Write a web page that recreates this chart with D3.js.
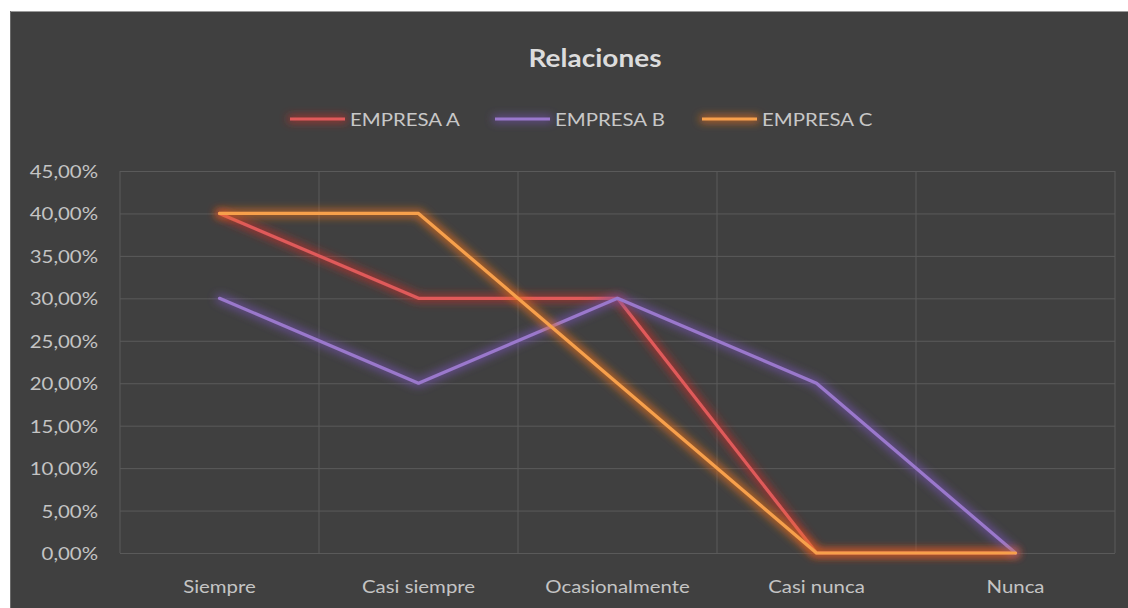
<!DOCTYPE html>
<html><head><meta charset="utf-8">
<script src="https://cdn.jsdelivr.net/npm/d3@7"></script>
<style>
html,body{margin:0;padding:0;background:#fff;}
svg{display:block;}
text{font-family:Lato,"Open Sans",sans-serif;}
</style></head>
<body>
<svg id="c" width="1128" height="608"></svg>
<script>
const categories = ["Siempre","Casi siempre","Ocasionalmente","Casi nunca","Nunca"];
const seriesNames = ["EMPRESA A","EMPRESA B","EMPRESA C"];
const empresaA = [0.40,0.30,0.30,0.00,0.00];
const empresaB = [0.30,0.20,0.30,0.20,0.00];
const empresaC = [0.40,0.40,0.20,0.00,0.00];
const yTicks = [0,0.05,0.10,0.15,0.20,0.25,0.30,0.35,0.40,0.45];
const title = "Relaciones";

const colors = ["#e05a5a","#9a78cc","#f7a04c"];
const glowColors = ["#c0302a","#7050a8","#e8701c"];
const series = [empresaA, empresaB, empresaC];
const SX = 1.2; // horizontal text stretch

const svg = d3.select("#c");
svg.append("rect").attr("x",10).attr("y",11).attr("width",1118).attr("height",597).attr("fill","#404040");
svg.append("line").attr("x1",10).attr("x2",1128).attr("y1",11.5).attr("y2",11.5).attr("stroke","#9a9a9a").attr("stroke-width",1);
svg.append("line").attr("x1",10.5).attr("x2",10.5).attr("y1",11).attr("y2",608).attr("stroke","#6a6a6a").attr("stroke-width",1);

const defs = svg.append("defs");
glowColors.forEach((c,i)=>{
  const f = defs.append("filter").attr("id","glow"+i).attr("filterUnits","userSpaceOnUse")
    .attr("x",0).attr("y",0).attr("width",1128).attr("height",608);
  f.append("feMorphology").attr("in","SourceAlpha").attr("operator","dilate").attr("radius",2).attr("result","d");
  f.append("feGaussianBlur").attr("in","d").attr("stdDeviation",4).attr("result","b");
  f.append("feFlood").attr("flood-color",c).attr("flood-opacity",0.75).attr("result","fc");
  f.append("feComposite").attr("in","fc").attr("in2","b").attr("operator","in").attr("result","g");
  const m = f.append("feMerge");
  m.append("feMergeNode").attr("in","g");
  m.append("feMergeNode").attr("in","SourceGraphic");
});

const x = d3.scaleBand().domain(categories).range([120,1115]);
const y = d3.scaleLinear().domain([0,0.45]).range([553,171]);
const loc = d3.formatLocale({decimal:",",thousands:".",grouping:[3],currency:["","€"]});
const fmt = loc.format(".2%");

// horizontal gridlines + y labels
const gy = svg.append("g").attr("transform","translate(120,0)")
  .call(d3.axisLeft(y).tickValues(yTicks).tickSize(-995).tickFormat(fmt).tickPadding(22));
gy.select(".domain").remove();
gy.selectAll(".tick line").attr("stroke","#5a5a5a").attr("stroke-width",1);
gy.selectAll(".tick text").attr("fill","#c4c4c4").style("font-size","17px")
  .attr("transform",`scale(${SX},1)`).attr("x",-22/SX).attr("dy","0.38em");

// vertical gridlines at band edges
const edges = categories.map(c=>x(c)).concat([x.range()[1]]);
svg.append("g").selectAll("line").data(edges).join("line")
  .attr("x1",d=>d).attr("x2",d=>d).attr("y1",y(0.45)).attr("y2",y(0))
  .attr("stroke","#5a5a5a").attr("stroke-width",1);

// x labels
const gx = svg.append("g").attr("transform","translate(0,553)")
  .call(d3.axisBottom(x).tickSize(0).tickPadding(28));
gx.select(".domain").remove();
gx.selectAll(".tick text").attr("fill","#c4c4c4").style("font-size","17px")
  .attr("transform",`scale(${SX},1)`);

// lines
const line = d3.line().x((d,i)=>x(categories[i])+x.bandwidth()/2).y(d=>y(d));
series.forEach((s,i)=>{
  svg.append("path").datum(s).attr("d",line).attr("fill","none")
    .attr("stroke",colors[i]).attr("stroke-width",3.2).attr("stroke-linejoin","round").attr("stroke-linecap","round")
    .attr("filter",`url(#glow${i})`);
});

// title
svg.append("text").attr("transform",`translate(595,67) scale(1.12,1)`).attr("text-anchor","middle")
  .attr("fill","#dcdcdc").style("font-size","25px").style("font-weight","bold").text(title);

// legend
const lg = svg.append("g");
seriesNames.forEach((n,i)=>{
  const lx = [290,495,702][i];
  lg.append("line").attr("x1",lx).attr("x2",lx+55).attr("y1",119).attr("y2",119)
    .attr("stroke",colors[i]).attr("stroke-width",3.2).attr("filter",`url(#glow${i})`);
  lg.append("text").attr("transform",`translate(${lx+60},126) scale(${SX},1)`)
    .attr("fill","#c8c8c8").style("font-size","17px").text(n);
});
</script>
</body></html>
